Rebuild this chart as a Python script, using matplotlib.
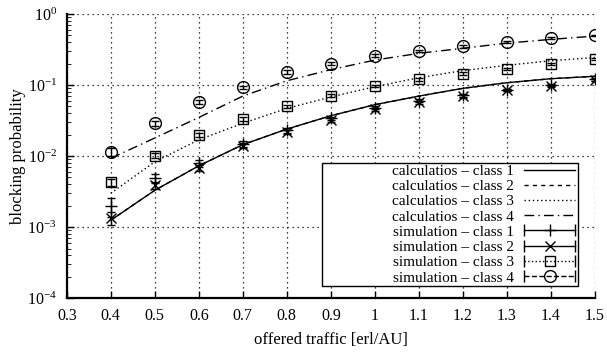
import matplotlib
matplotlib.use("Agg")
import matplotlib.pyplot as plt
from matplotlib.lines import Line2D
from matplotlib.patches import Rectangle
from matplotlib.legend_handler import HandlerLine2D, HandlerTuple

plt.rcParams['font.family'] = ['Liberation Serif', 'DejaVu Serif']
plt.rcParams['mathtext.fontset'] = 'stix'

# offered traffic [erl/AU]
traffic = [0.4, 0.5, 0.6, 0.7, 0.8, 0.9, 1.0, 1.1, 1.2, 1.3, 1.4, 1.5]

# calculations
calc1 = [1.25e-3, 3.3e-3, 7.3e-3, 0.0145, 0.024, 0.037, 0.053, 0.070, 0.090, 0.108, 0.123, 0.133]
calc2 = [1.25e-3, 3.3e-3, 7.3e-3, 0.0145, 0.024, 0.037, 0.053, 0.070, 0.090, 0.108, 0.123, 0.133]
calc3 = [3.0e-3, 8.3e-3, 0.017, 0.029, 0.047, 0.068, 0.095, 0.127, 0.160, 0.190, 0.220, 0.245]
calc4 = [9.3e-3, 0.018, 0.035, 0.070, 0.115, 0.165, 0.225, 0.280, 0.330, 0.390, 0.440, 0.490]

# simulation
sim1 = [2.0e-3, 4.9e-3, 7.9e-3, 0.015, 0.023, 0.034, 0.048, 0.060, 0.072, 0.086, 0.100, 0.120]
sim2 = [1.35e-3, 3.9e-3, 6.8e-3, 0.014, 0.022, 0.032, 0.046, 0.057, 0.070, 0.085, 0.098, 0.118]
sim3 = [4.3e-3, 0.0102, 0.020, 0.033, 0.050, 0.071, 0.098, 0.120, 0.145, 0.170, 0.200, 0.230]
sim4 = [0.0115, 0.029, 0.058, 0.093, 0.153, 0.200, 0.260, 0.300, 0.350, 0.400, 0.460, 0.500]

# confidence intervals (relative half-width)
rel1 = [0.30, 0.15, 0.12, 0.10, 0.07, 0.06, 0.05, 0.05, 0.05, 0.04, 0.04, 0.04]
rel2 = [0.20, 0.12, 0.10, 0.08, 0.06, 0.06, 0.05, 0.05, 0.05, 0.04, 0.04, 0.04]
rel3 = [0.12, 0.08, 0.07, 0.06, 0.05, 0.05, 0.04, 0.04, 0.04, 0.03, 0.03, 0.03]
rel4 = [0.12, 0.08, 0.07, 0.06, 0.05, 0.05, 0.04, 0.04, 0.04, 0.03, 0.03, 0.03]

fig = plt.figure(figsize=(6.07, 3.52), dpi=100)
ax = fig.add_axes([0.110, 0.153, 0.870, 0.807])

ax.plot(traffic, calc1, color='k', lw=1.0, ls='-')
ax.plot(traffic, calc2, color='k', lw=1.0, dashes=(3, 3))
ax.plot(traffic, calc3, color='k', lw=1.0, dashes=(1, 2))
ax.plot(traffic, calc4, color='k', lw=1.0, dashes=(7, 3, 1, 3))

sims = [(sim1, rel1, '+', 8), (sim2, rel2, 'x', 7), (sim3, rel3, 's', 7.5), (sim4, rel4, 'o', 8.5)]
for vals, rel, mk, ms in sims:
    err = [v * r for v, r in zip(vals, rel)]
    ax.errorbar(traffic, vals, yerr=err, fmt=mk, color='k', ms=ms, mfc='none',
                mew=1.0, elinewidth=1.0, capsize=3, capthick=1.0)

ax.set_yscale('log')
ax.set_ylim(1e-4, 1)
ax.set_xlim(0.3, 1.5)
ax.set_xticks([0.3, 0.4, 0.5, 0.6, 0.7, 0.8, 0.9, 1.0, 1.1, 1.2, 1.3, 1.4, 1.5])
ax.set_xticklabels(['0.3', '0.4', '0.5', '0.6', '0.7', '0.8', '0.9', '1', '1.1', '1.2', '1.3', '1.4', '1.5'])
ax.tick_params(direction='in', labelsize=11.5, length=5, width=1.0, pad=7)
ax.tick_params(which='minor', direction='in', length=3)
ax.grid(True, which='major', color='k', ls=(0, (1, 3)), lw=0.9)
for s in ['top', 'right']:
    ax.spines[s].set_visible(False)
for s in ['left', 'bottom']:
    ax.spines[s].set_linewidth(1.6)

ax.set_xlabel('offered traffic [erl/AU]', fontsize=12, labelpad=6)
ax.set_ylabel('blocking probability', fontsize=12, labelpad=1)

# legend
h_calc = [
    Line2D([], [], color='k', lw=1.0, ls='-'),
    Line2D([], [], color='k', lw=1.0, dashes=(3, 3)),
    Line2D([], [], color='k', lw=1.0, dashes=(1, 2)),
    Line2D([], [], color='k', lw=1.0, dashes=(7, 3, 1, 3)),
]
hmap = {}
h_sim = []
for (vals, rel, mk, ms), ls in zip(sims, ['-', '-', ':', '--']):
    caps = Line2D([], [], color='k', lw=1.0, ls=ls, marker='|', ms=9, mew=1.0)
    mid = Line2D([], [], color='k', ls='none', marker=mk, ms=ms, mfc='none', mew=1.0)
    hmap[caps] = HandlerLine2D(numpoints=2, marker_pad=0)
    h_sim.append((caps, mid))
hmap[tuple] = HandlerTuple(ndivide=1, pad=0)

labels = ['calculatios \u2013 class 1', 'calculatios \u2013 class 2',
          'calculatios \u2013 class 3', 'calculatios \u2013 class 4',
          'simulation \u2013 class 1', 'simulation \u2013 class 2',
          'simulation \u2013 class 3', 'simulation \u2013 class 4']
leg = ax.legend(h_calc + h_sim, labels, handler_map=hmap, loc='lower right',
                bbox_to_anchor=(0.962, 0.048), borderaxespad=0, markerfirst=False,
                fontsize=11, handlelength=3.3, labelspacing=0.1, handletextpad=0.7,
                frameon=False, borderpad=0.0)
ax.add_patch(Rectangle((0.483, 0.042), 0.485, 0.433, transform=ax.transAxes,
                       facecolor='white', edgecolor='k', lw=1.0, zorder=4.9))
leg.set_zorder(5)

fig.savefig('out.png', dpi=100)
